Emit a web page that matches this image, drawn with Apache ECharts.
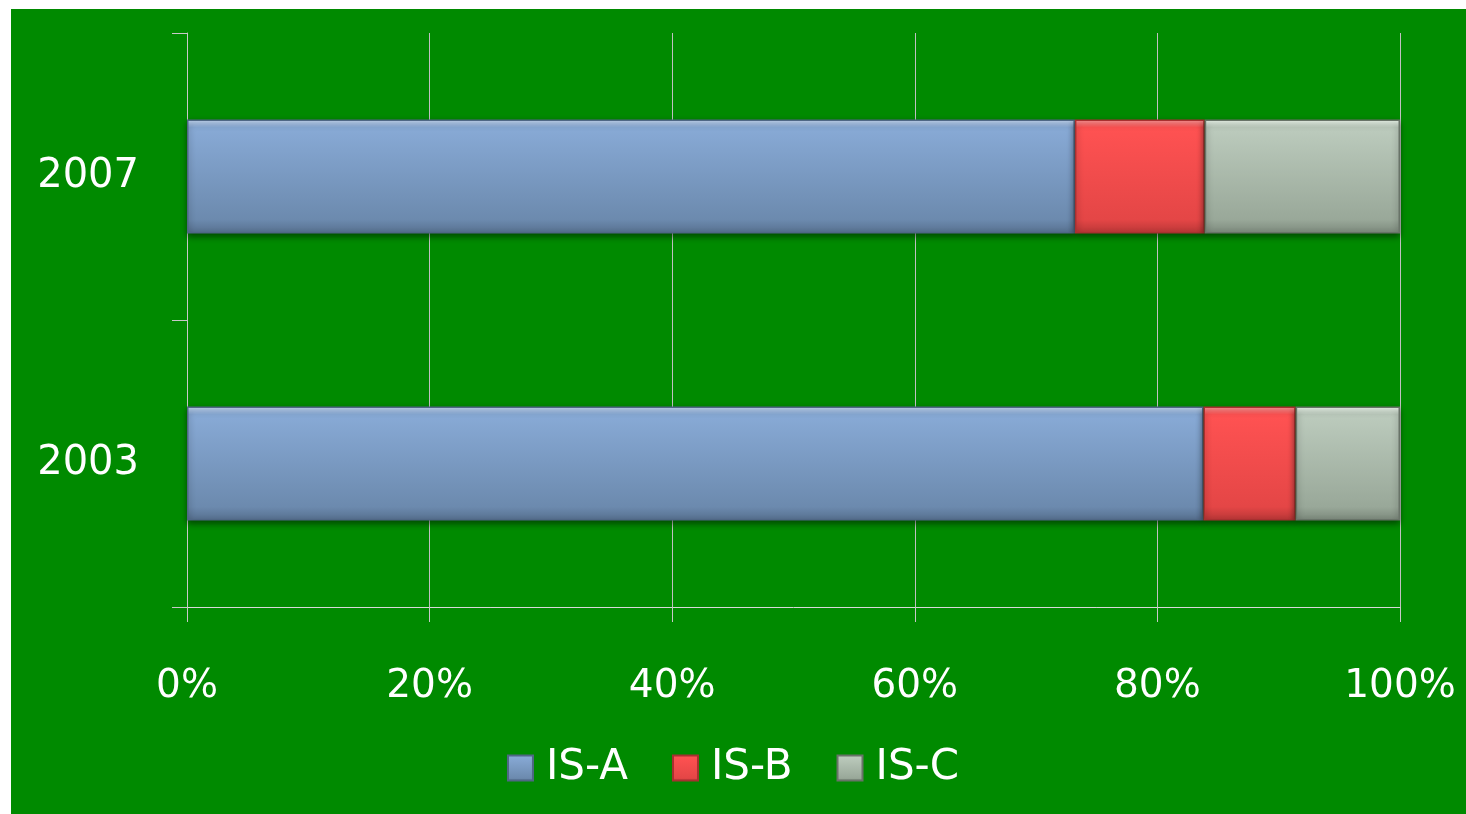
<!DOCTYPE html>
<html>
<head>
<meta charset="utf-8">
<script src="https://cdn.jsdelivr.net/npm/echarts@6/dist/echarts.min.js"></script>
<style>
  html, body { margin: 0; padding: 0; background: #ffffff; }
  #wrap { position: absolute; left: 11px; top: 9px; width: 1455px; height: 805px; background: #008a00; }
  #chart { position: absolute; left: -11px; top: -9px; width: 1466px; height: 814px; }
</style>
</head>
<body>
<div id="wrap"><div id="chart"></div></div>
<script>
// 数据
const years = ['2003', '2007'];
const isA = [83.8, 73.2];
const isB = [7.6, 10.7];
const isC = [8.6, 16.1];
const valueTicks = [0, 20, 40, 60, 80, 100];

function grad(top, hi, mid, low) {
  return new echarts.graphic.LinearGradient(0, 0, 0, 1, [
    {offset: 0, color: top},
    {offset: 0.07, color: hi},
    {offset: 0.88, color: mid},
    {offset: 1, color: low}
  ]);
}

const font = '"DejaVu Sans", sans-serif';

function barSeries(name, data, color, border) {
  return {
    name: name,
    type: 'bar',
    stack: 'total',
    barWidth: 114,
    data: data,
    itemStyle: {
      color: color,
      borderColor: border,
      borderWidth: 1.5,
      shadowColor: 'rgba(0,0,0,0.45)',
      shadowBlur: 6,
      shadowOffsetY: 3
    }
  };
}

const chart = echarts.init(document.getElementById('chart'));
const option = {
  backgroundColor: 'transparent',
  animation: false,
  grid: {left: 187, right: 66, top: 33, bottom: 207},
  legend: {
    bottom: 20,
    left: 'center',
    itemWidth: 25,
    itemHeight: 25,
    itemGap: 44,
    icon: 'rect',
    textStyle: {color: '#ffffff', fontSize: 42, fontFamily: font, padding: [0, 0, 0, 8]},
    data: ['IS-A', 'IS-B', 'IS-C']
  },
  xAxis: {
    type: 'value',
    min: valueTicks[0],
    max: valueTicks[valueTicks.length - 1],
    interval: 20,
    axisLine: {show: true, lineStyle: {color: '#d8d8d8', width: 1}},
    axisTick: {show: true, length: 15, lineStyle: {color: '#c8c8c8'}},
    splitLine: {show: true, lineStyle: {color: '#c0c0c0', width: 1}},
    axisLabel: {
      color: '#ffffff', fontSize: 39, fontFamily: font, margin: 60,
      formatter: '{value}%'
    }
  },
  yAxis: {
    type: 'category',
    data: years,
    axisLine: {show: true, lineStyle: {color: '#c8c8c8', width: 1}},
    axisTick: {show: true, length: 15, lineStyle: {color: '#c8c8c8'}},
    axisLabel: {color: '#ffffff', fontSize: 40, fontFamily: font, margin: 48}
  },
  series: [
    barSeries('IS-A', isA, grad('#c8dcf6', '#88aad6', '#6c8aae', '#566f8e'), '#4f6785'),
    barSeries('IS-B', isB, grad('#ff9a9a', '#ff5252', '#e44646', '#b83636'), '#a83030'),
    barSeries('IS-C', isC, grad('#f4fff4', '#bccbbd', '#99a899', '#7b887b'), '#687368')
  ]
};
chart.setOption(option);
</script>
</body>
</html>
